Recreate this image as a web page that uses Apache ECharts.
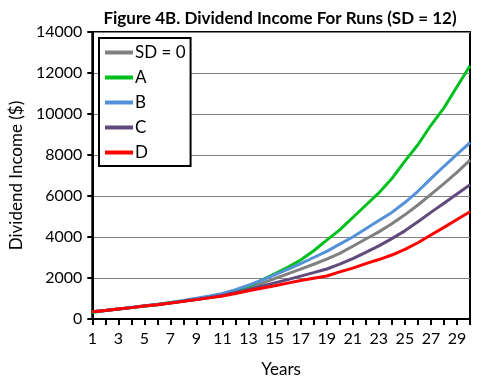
<!DOCTYPE html>
<html><head><meta charset="utf-8">
<script src="https://cdn.jsdelivr.net/npm/echarts@6/dist/echarts.min.js"></script>
<style>html,body{margin:0;padding:0;background:#fff}#c{width:482px;height:385px}</style>
</head><body><div id="c"></div>
<script>
const years = Array.from({length:30},(_,i)=>String(i+1));
const sd0 = [350,420,490,560,635,705,790,880,970,1070,1180,1340,1530,1740,1970,2200,2430,2670,2920,3200,3550,3900,4250,4650,5080,5560,6080,6600,7150,7750];
const serA = [320,410,485,555,630,700,790,880,975,1080,1200,1370,1600,1900,2200,2520,2880,3330,3850,4350,4950,5550,6150,6850,7700,8500,9450,10300,11330,12350];
const serB = [350,420,490,565,645,720,810,905,1010,1120,1250,1430,1650,1880,2150,2420,2700,3000,3300,3650,4000,4400,4800,5200,5680,6230,6850,7450,8030,8600];
const serC = [350,415,485,555,630,700,780,865,955,1050,1150,1290,1440,1600,1760,1920,2090,2260,2440,2680,2950,3250,3570,3920,4300,4740,5200,5650,6100,6550];
const serD = [350,415,485,555,630,695,775,860,945,1030,1120,1240,1380,1500,1620,1750,1880,1990,2100,2300,2480,2700,2900,3120,3400,3720,4100,4470,4850,5230];
const yTicks = [0,2000,4000,6000,8000,10000,12000,14000];

const F = 'Lato, "Open Sans", sans-serif';
const chart = echarts.init(document.getElementById('c'));
const mk = (name, data, color) => ({
  name, type:'line', data, showSymbol:false, symbol:'none', smooth:false,
  lineStyle:{color, width:3}, itemStyle:{color}
});
chart.setOption({
  animation:false,
  title:{text:'Figure 4B. Dividend Income For Runs (SD = 12)', left:275, textAlign:'center', top:5,
    textStyle:{fontFamily:F, fontWeight:'bold', fontSize:17, color:'#000'}},
  grid:{left:92, right:12, top:32, bottom:66, show:true, borderColor:'#000', borderWidth:2, backgroundColor:'transparent'},
  legend:{orient:'vertical', left:99, top:38, backgroundColor:'#fff', borderColor:'#000', borderWidth:2,
    padding:[6,5,5,6], itemGap:8, itemWidth:28, itemHeight:4, icon:'rect',
    textStyle:{fontFamily:F, fontSize:17, color:'#000', padding:[0,0,0,-3]},
    data:['SD = 0','A','B','C','D']},
  xAxis:{type:'category', data:years, boundaryGap:false,
    name:'Years', nameLocation:'middle', nameGap:42, nameTextStyle:{fontFamily:F, fontSize:17, color:'#000'},
    axisLine:{lineStyle:{color:'#000', width:2}},
    axisTick:{show:true, interval:0, length:6, lineStyle:{color:'#000', width:2}},
    axisLabel:{interval:1, fontFamily:F, fontSize:16, color:'#000', margin:12},
    splitLine:{show:false}},
  yAxis:{type:'value', min:0, max:14000, interval:2000,
    name:'Dividend Income ($)', nameLocation:'middle', nameGap:62, nameTextStyle:{fontFamily:F, fontSize:17, color:'#000'},
    axisLine:{show:true, lineStyle:{color:'#000', width:2}},
    axisTick:{show:true, length:5, lineStyle:{color:'#000', width:2}},
    axisLabel:{fontFamily:F, fontSize:16, color:'#000', margin:10,
      formatter:v=>yTicks.includes(v)?String(v):''},
    splitLine:{show:true, lineStyle:{color:'#808080', width:1}}},
  series:[
    mk('SD = 0', sd0, '#808080'),
    mk('A', serA, '#00C020'),
    mk('B', serB, '#5591D8'),
    mk('C', serC, '#604A7B'),
    mk('D', serD, '#FF0000')
  ]
});
</script></body></html>
